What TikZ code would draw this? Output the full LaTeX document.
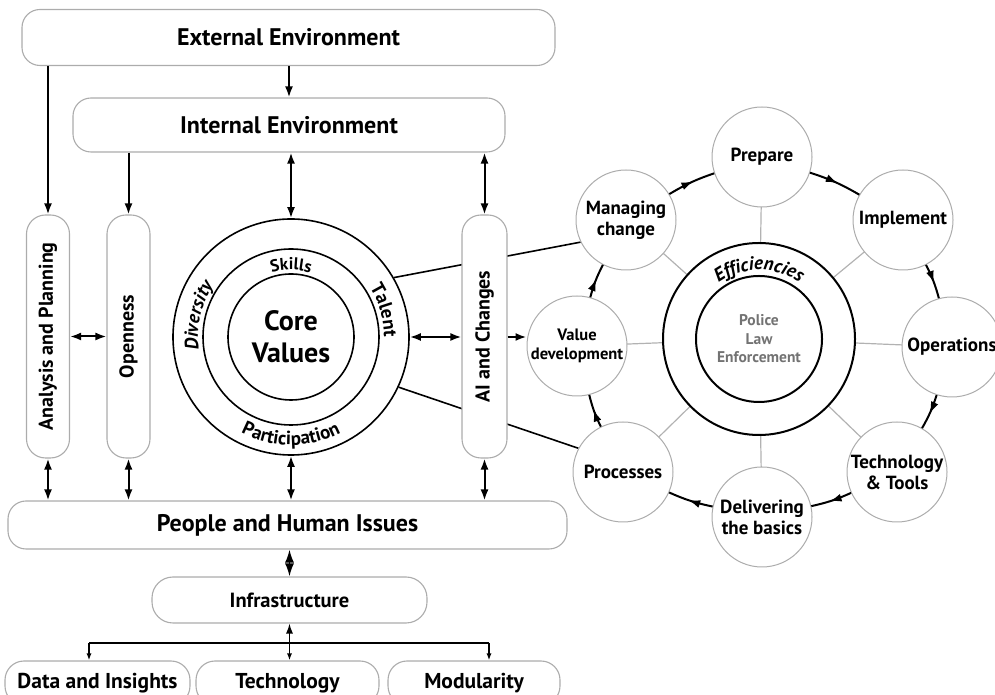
\documentclass[tikz,border=0pt]{standalone}
\usepackage{fontspec}
\setmainfont{PT Sans}
\usetikzlibrary{arrows.meta,decorations.text,decorations.markings,backgrounds,calc}
\begin{document}
\begin{tikzpicture}[x=1pt,y=1pt,
 box/.style={draw=gray!65, line width=1.1pt, fill=white, rounded corners=18pt, inner sep=0pt, font=\bfseries\fontsize{24}{28}\selectfont},
 vbox/.style={draw=gray!65, line width=1.1pt, fill=white, rounded corners=19pt, inner sep=0pt},
 vtext/.style={rotate=90, font=\bfseries\fontsize{20}{24}\selectfont},
 sat/.style={circle, draw=gray!65, line width=1pt, fill=white, minimum size=100pt, inner sep=0pt, align=center, font=\bfseries\fontsize{19}{21}\selectfont},
 ring/.style={circle, draw=black, line width=1.6pt, fill=white, inner sep=0pt},
 arr/.style={line width=2pt, -{Latex[length=11pt,width=8pt]}},
 darr/.style={line width=2pt, {Latex[length=11pt,width=8pt]}-{Latex[length=11pt,width=8pt]}},
 sarr/.style={line width=1.3pt, -{Latex[length=7pt,width=5pt]}},
 cyc/.style={line width=2pt, postaction={decorate}, decoration={markings, mark=at position 0.55 with {\arrow{Latex[length=12pt,width=8pt]}}}},
 spoke/.style={draw=gray!60, line width=1.2pt},
 curv/.style={decorate, decoration={text along path, text align=center, text={#1}}},
]
\useasboundingbox (0,0) rectangle (995,695);

% ---------- left part ----------
\node[box, minimum width=533pt, minimum height=56pt] (ext) at (288.5,657.5) {External Environment};
\node[box, minimum width=432pt, minimum height=54pt] (int) at (289,570) {Internal Environment};

\node[vbox, minimum width=43pt, minimum height=243pt] (ana) at (48,358.5) {};
\node[vtext] (anat) at (ana) {Analysis and Planning};
\node[vbox, minimum width=43pt, minimum height=243pt] (opn) at (128.5,358.5) {};
\node[vtext] (opnt) at (opn) {Openness};

% core circles
\node[ring, minimum size=236pt] (core) at (291,358) {};
\node[ring, minimum size=176pt] (coremid) at (core) {};
\node[ring, minimum size=126pt, align=center, font=\bfseries\fontsize{28}{32}\selectfont] (corein) at (core) {Core\\Values};

\path[curv={|\bfseries\itshape\fontsize{19}{19}\selectfont|Diversity}]
  ($(core.center)+(232:93)$) arc[start angle=232, end angle=102, radius=93];
\path[curv={|\bfseries\fontsize{19}{19}\selectfont|Talent}]
  ($(core.center)+(66:93)$) arc[start angle=66, end angle=-34, radius=93];
\path[curv={|\bfseries\fontsize{19}{19}\selectfont|Participation}]
  ($(core.center)+(200:108)$) arc[start angle=200, end angle=340, radius=108];
\path[curv={|\bfseries\fontsize{17}{17}\selectfont|Skills}]
  ($(core.center)+(145:67)$) arc[start angle=145, end angle=35, radius=67];

\node[vbox, minimum width=45pt, minimum height=243pt] (ai) at (484.5,358.5) {};
\node[vtext] (ait) at (ai) {AI and Changes};

\node[box, minimum width=559pt, minimum height=48pt] (ppl) at (287.5,170) {People and Human Issues};
\node[box, rounded corners=21pt, minimum width=275pt, minimum height=46pt, font=\bfseries\fontsize{20.5}{24}\selectfont] (inf) at (289.5,95) {Infrastructure};
\node[box, rounded corners=19pt, minimum width=185pt, minimum height=44pt, font=\bfseries\fontsize{21.5}{25}\selectfont] (dat) at (97.5,12) {Data and Insights};
\node[box, rounded corners=19pt, minimum width=183pt, minimum height=44pt, font=\bfseries\fontsize{21.5}{25}\selectfont] (tec) at (287.5,12) {Technology};
\node[box, rounded corners=19pt, minimum width=172pt, minimum height=44pt, font=\bfseries\fontsize{21.5}{25}\selectfont] (mod) at (474,12) {Modularity};

% ---------- right cycle ----------
\node[circle, draw=black, line width=2pt, fill=white, minimum size=192pt, inner sep=0pt] (eff) at (759,356) {};
\node[circle, draw=black, line width=2pt, fill=white, minimum size=126pt, inner sep=0pt, align=center, text=black!55, font=\bfseries\fontsize{15.5}{18.5}\selectfont] (pol) at (eff) {Police\\Law\\Enforcement};
\path[curv={|\bfseries\itshape\fontsize{19}{19}\selectfont|Efficiencies}]
  ($(eff.center)+(170:69)$) arc[start angle=170, end angle=10, radius=69];

\node[sat] (pre) at (762,538) {Prepare};
\node[sat] (imp) at (903,475) {Implement};
\node[sat] (ope) at (952,348) {Operations};
\node[sat] (tt)  at (897,223) {Technology\\\& Tools};
\node[sat] (del) at (762,178) {Delivering\\the basics};
\node[sat] (pro) at (623,223) {Processes};
\node[sat, font=\bfseries\fontsize{16.5}{19.5}\selectfont] (val) at (577,349) {Value\\development};
\node[sat] (man) at (626,475) {Managing\\change};

\begin{pgfonlayer}{background}
  \foreach \s in {pre,imp,ope,tt,del,pro,val,man}
    \draw[spoke] (eff.center) -- (\s.center);
  \draw[line width=1.6pt] (core.30) -- (man.206);
  \draw[line width=1.6pt] (core.-25) -- (pro.152);
\end{pgfonlayer}

% cycle arrows
\draw[cyc] (man) to[bend left=6] (pre);
\draw[cyc] (pre) to[bend left=6] (imp);
\draw[cyc] (imp) to[bend left=6] (ope);
\draw[cyc] (ope) to[bend left=6] (tt);
\draw[cyc] (tt) to[bend left=6] (del);
\draw[cyc] (del) to[bend left=6] (pro);
\draw[cyc] (pro) to[bend left=6] (val);
\draw[cyc] (val) to[bend left=6] (man);

% ---------- connectors ----------
\draw[arr] (int.north |- ext.south) -- (int.north);
\draw[arr] (ana.north |- ext.south) -- (ana.north);
\draw[arr] (opn.north |- int.south) -- (opn.north);
\draw[darr] (core.north |- int.south) -- (core.north);
\draw[darr] (ai.north |- int.south) -- (ai.north);
\draw[darr] (ana.east) -- (opn.west);
\draw[darr] (core.east) -- (ai.west |- core.east);
\draw[arr] (ai.east |- core.east) -- (val.west |- core.east);
\draw[darr] (ana.south) -- (ana.south |- ppl.north);
\draw[darr] (opn.south) -- (opn.south |- ppl.north);
\draw[darr] (core.south) -- (core.south |- ppl.north);
\draw[darr] (ai.south) -- (ai.south |- ppl.north);
\draw[line width=1.8pt, {Latex[length=13pt,width=9pt]}-{Latex[length=13pt,width=9pt]}] (inf.north) -- (inf.north |- ppl.south);

\coordinate (bl) at (89,52);
\coordinate (brr) at (489,52);
\draw[line width=1.3pt] (bl) -- (brr);
\draw[sarr] (bl) -- (bl |- dat.north);
\draw[sarr] (brr) -- (brr |- mod.north);
\draw[line width=1.3pt, {Latex[length=10pt,width=7pt]}-{Latex[length=7pt,width=5pt]}] (inf.south) -- (inf.south |- tec.north);
\end{tikzpicture}
\end{document}
